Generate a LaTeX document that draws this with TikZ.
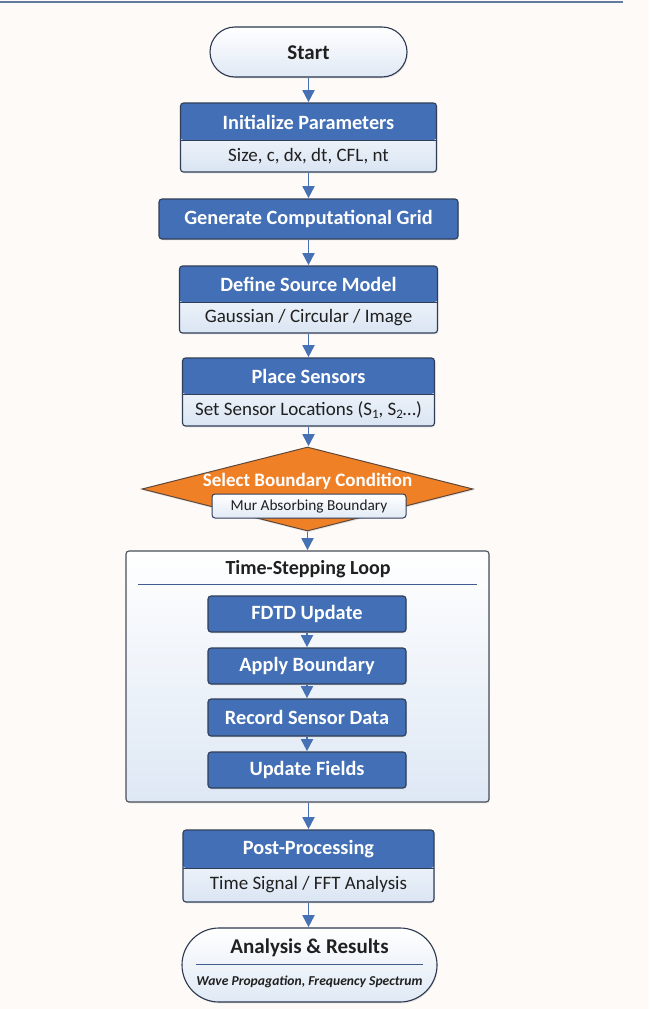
\documentclass[tikz,border=0pt]{standalone}
\usepackage{fontspec}
\setmainfont{Carlito}
\usetikzlibrary{shapes.geometric,shapes.misc,arrows.meta,shadows}
\definecolor{bgc}{RGB}{253,250,247}
\definecolor{hdrc}{RGB}{66,111,181}
\definecolor{bordc}{RGB}{48,62,88}
\definecolor{subc}{RGB}{218,229,243}
\definecolor{arrc}{RGB}{70,113,180}
\definecolor{txtc}{RGB}{32,32,32}
\definecolor{orc}{RGB}{240,128,38}
\definecolor{orb}{RGB}{95,72,58}
\definecolor{loopb}{RGB}{72,78,90}
\definecolor{linec}{RGB}{62,92,140}
\definecolor{topc}{RGB}{98,122,162}
\begin{document}
\begin{tikzpicture}[x=1pt,y=-1pt,
  shadowed/.style={drop shadow={opacity=0.18,shadow xshift=0.8pt,shadow yshift=-1.4pt}},
  card/.style n args={3}{draw=bordc, line width=1.1pt, rounded corners=3pt,
    minimum width=#1, minimum height=#2, inner sep=0, top color=white, bottom color=subc,
    shadowed,
    path picture={
      \fill[hdrc] (path picture bounding box.north west) rectangle ([yshift=-#3]path picture bounding box.north east);
      \draw[bordc, line width=0.6pt] ([yshift=-#3]path picture bounding box.north west) -- ([yshift=-#3]path picture bounding box.north east);
    }},
  bluebox/.style n args={2}{draw=bordc, fill=hdrc, line width=1.1pt, rounded corners=3pt,
    minimum width=#1, minimum height=#2, inner sep=0, shadowed,
    text=white, font=\bfseries\fontsize{20.3}{24}\selectfont},
  htext/.style={text=white, font=\bfseries\fontsize{20.3}{24}\selectfont, inner sep=0},
  stext/.style={text=txtc, font=\fontsize{19}{22}\selectfont, inner sep=0},
  pill/.style n args={2}{rounded rectangle, draw=bordc!90!black, line width=1.1pt,
    minimum width=#1, minimum height=#2, inner sep=0, top color=white, bottom color=subc!85, shadowed},
  arr/.style={draw=arrc, line width=1.8pt, -{Triangle[width=12pt,length=12pt]}, shorten >=0.3pt},
]
\fill[bgc] (0,0) rectangle (649,1009);
\useasboundingbox (0,0) rectangle (649,1009);
\draw[topc, line width=2pt] (0,1.5) -- (623,1.5);

% Start
\node[pill={197}{50}] (start) at (308.5,52) {};
\node[text=txtc, font=\bfseries\fontsize{21}{25}\selectfont, inner sep=0] (startT) at (308.5,53) {Start};

% Initialize
\node[card={256}{69}{37}] (init) at (308.5,137.5) {};
\node[htext] (initH) at (308.5,122) {Initialize Parameters};
\node[stext] (initS) at (308.5,156) {Size, c, dx, dt, CFL, nt};

% Grid
\node[bluebox={299}{40}] (grid) at (308.5,219) {Generate Computational Grid};

% Source
\node[card={258}{67}{36}] (src) at (308.5,299.5) {};
\node[htext] (srcH) at (308.5,284.5) {Define Source Model};
\node[stext] (srcS) at (308.5,317.5) {Gaussian / Circular / Image};

% Sensors
\node[card={252}{68}{36}] (sens) at (308.5,392) {};
\node[htext] (sensH) at (308.5,376.5) {Place Sensors};
\node[stext] (sensS) at (308.5,410) {Set Sensor Locations (S\raisebox{-0.3ex}{\fontsize{13}{13}\selectfont 1}, S\raisebox{-0.3ex}{\fontsize{13}{13}\selectfont 2}…)};

% Diamond
\node[diamond, draw=orb, fill=orc, line width=1pt, minimum width=331pt, minimum height=84pt, inner sep=0, shadowed] (bc) at (307.5,489) {};
\node[text=white, font=\bfseries\fontsize{19}{23}\selectfont, inner sep=0] (bcT) at (307.5,481.5) {Select Boundary Condition};
\node[draw=bordc, line width=1pt, rounded corners=3pt, top color=white, bottom color=subc!80, minimum width=194pt, minimum height=24pt, inner sep=0,
  text=txtc, font=\fontsize{15.3}{18}\selectfont] (mur) at (309,506) {Mur Absorbing Boundary};

% Loop container
\node[draw=loopb, line width=1.1pt, rounded corners=3pt, top color=white, bottom color=subc!90, minimum width=363pt, minimum height=251pt, inner sep=0, shadowed] (loop) at (307.5,676.5) {};
\node[text=txtc, font=\bfseries\fontsize{20}{24}\selectfont, inner sep=0] (loopT) at (308,569) {Time-Stepping Loop};
\coordinate (ll) at (138,584);
\coordinate (lr) at (477,584);
\draw[linec, line width=1pt] (ll) -- (lr);

\node[bluebox={198}{36}] (fdtd) at (307,614) {FDTD Update};
\node[bluebox={198}{36}] (apply) at (307,666) {Apply Boundary};
\node[bluebox={198}{37}] (rec) at (307,717.5) {Record Sensor Data};
\node[bluebox={198}{36}] (upd) at (307,770) {Update Fields};

% Post
\node[card={251}{72}{38}] (post) at (308.5,866) {};
\node[htext] (postH) at (308.5,849.5) {Post-Processing};
\node[stext] (postS) at (308.5,885) {Time Signal / FFT Analysis};

% Results
\node[pill={255}{74}] (res) at (309.5,965) {};
\node[text=txtc, font=\bfseries\fontsize{21}{25}\selectfont, inner sep=0] (resT) at (309.5,948) {Analysis \& Results};
\coordinate (rl) at (196,964);
\coordinate (rr) at (423,964);
\draw[linec, line width=1pt] (rl) -- (rr);
\node[text=txtc, font=\bfseries\itshape\fontsize{13.6}{16}\selectfont, inner sep=0] (resS) at (309.5,982) {Wave Propagation, Frequency Spectrum};

% Arrows
\draw[arr] (start.south) -- (start.south |- init.north);
\draw[arr] (init.south) -- (init.south |- grid.north);
\draw[arr] (grid.south) -- (grid.south |- src.north);
\draw[arr] (src.south) -- (src.south |- sens.north);
\draw[arr] (sens.south) -- (sens.south |- bc.north);
\draw[arr] (bc.south) -- (bc.south |- loop.north);
\draw[arr] (fdtd.south) -- (apply.north);
\draw[arr] (apply.south) -- (rec.north);
\draw[arr] (rec.south) -- (upd.north);
\draw[arr] (loop.south -| post.north) -- (post.north);
\draw[arr] (post.south) -- (post.south |- res.north);
\end{tikzpicture}
\end{document}
